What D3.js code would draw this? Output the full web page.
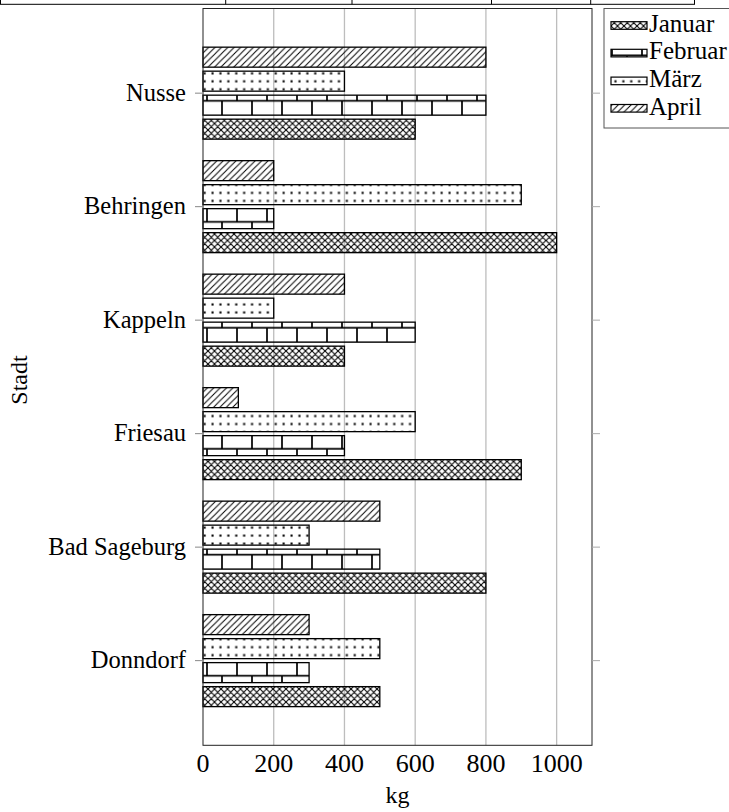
<!DOCTYPE html>
<html>
<head>
<meta charset="utf-8">
<script src="https://cdn.jsdelivr.net/npm/d3@7"></script>
<style>
  html, body { margin: 0; padding: 0; background: #fff; overflow: hidden; }
  text { font-family: "Liberation Serif", serif; fill: #000; }
</style>
</head>
<body>
<script>
// Daten
const cities = ["Nusse", "Behringen", "Kappeln", "Friesau", "Bad Sageburg", "Donndorf"];
const months = ["Januar", "Februar", "März", "April"];
const januar = [600, 1000, 400, 900, 800, 500];
const februar = [800, 200, 600, 400, 500, 300];
const maerz = [400, 900, 200, 600, 300, 500];
const april = [800, 200, 400, 100, 500, 300];
const xTicks = [0, 200, 400, 600, 800, 1000];

const seriesValues = [januar, februar, maerz, april];
const patternIds = ["crosshatch", "bricks", "dots", "nelines"];

const series = months.map(function (m, i) {
    return {name: m, values: seriesValues[i], pattern: patternIds[i]};
});

const W = 729, H = 812;
const plotLeft = 203, plotRight = 592, plotTop = 8.5, plotBottom = 745.3;

const svg = d3.select("body")
    .append("svg")
    .attr("width", W)
    .attr("height", H);

// Muster
const defs = svg.append("defs");

function addPattern(id, w, h, px, py) {
    return defs.append("pattern")
        .attr("id", id)
        .attr("patternUnits", "userSpaceOnUse")
        .attr("width", w)
        .attr("height", h)
        .attr("x", px)
        .attr("y", py);
}

addPattern("crosshatch", 6.5, 6.5, 0, 0)
    .append("path")
    .attr("d", "M-1,-1L7.5,7.5M5.5,-1L7.5,1M-1,5.5L1,7.5M-1,7.5L7.5,-1M-1,1L1,-1M5.5,7.5L7.5,5.5")
    .attr("stroke", "#000")
    .attr("stroke-width", 1.1)
    .attr("fill", "none");

addPattern("nelines", 6.4, 6.4, 0, 0)
    .append("path")
    .attr("d", "M-1,7.4L7.4,-1M-1,1L1,-1M5.4,7.4L7.4,5.4")
    .attr("stroke", "#000")
    .attr("stroke-width", 1)
    .attr("fill", "none");

addPattern("dots", 7.9, 7.97, 204.6 - 1.5, 73.3 - 1.5)
    .append("rect")
    .attr("x", 0.5)
    .attr("y", 0.5)
    .attr("width", 2.1)
    .attr("height", 2.1)
    .attr("fill", "#000");

const brickH = 15.13;
addPattern("bricks", 30, 2 * brickH, 206, 84.6)
    .append("path")
    .attr("d", "M0,1H30M0," + (1 + brickH) + "H30M1,1V" + (1 + brickH) +
        "M16," + (1 + brickH) + "V" + (2 * brickH) + "M16,0V1")
    .attr("stroke", "#000")
    .attr("stroke-width", 1.7)
    .attr("fill", "none");

// Skalen
const x = d3.scaleLinear()
    .domain([0, 1100])
    .range([plotLeft, plotRight]);

const y = d3.scalePoint()
    .domain(cities)
    .range([plotTop, plotBottom])
    .padding(0.746);

const inner = d3.scaleBand()
    .domain(months.slice().reverse())
    .range([-48, 48])
    .paddingInner(1 / 6)
    .paddingOuter(1 / 12);

// abgeschnittene Box oben
svg.append("rect")
    .attr("x", 0.5)
    .attr("y", -20)
    .attr("width", 694)
    .attr("height", 24.3)
    .attr("fill", "none")
    .attr("stroke", "#000")
    .attr("stroke-width", 1);

svg.selectAll("line.topdiv")
    .data([225.7, 352, 491.5, 590.7])
    .enter()
    .append("line")
    .attr("class", "topdiv")
    .attr("x1", function (d) { return d; })
    .attr("x2", function (d) { return d; })
    .attr("y1", -20)
    .attr("y2", 4.3)
    .attr("stroke", "#000")
    .attr("stroke-width", 1);

// Gitterlinien
svg.selectAll("line.grid")
    .data(xTicks.slice(1))
    .enter()
    .append("line")
    .attr("class", "grid")
    .attr("x1", function (d) { return x(d); })
    .attr("x2", function (d) { return x(d); })
    .attr("y1", plotTop)
    .attr("y2", plotBottom)
    .attr("stroke", "#bdbdbd")
    .attr("stroke-width", 1.3);

// Balken
const groups = svg.selectAll("g.series")
    .data(series)
    .enter()
    .append("g")
    .attr("class", "series");

groups.selectAll("rect")
    .data(function (s) {
        return s.values.map(function (v, i) {
            return {city: cities[i], value: v, name: s.name, pattern: s.pattern};
        });
    })
    .enter()
    .append("rect")
    .attr("x", x(0))
    .attr("y", function (d) { return y(d.city) + inner(d.name); })
    .attr("width", function (d) { return x(d.value) - x(0); })
    .attr("height", inner.bandwidth())
    .attr("fill", function (d) { return "url(#" + d.pattern + ")"; })
    .attr("stroke", "#000")
    .attr("stroke-width", 1.3);

// Rahmen
svg.append("rect")
    .attr("x", plotLeft)
    .attr("y", plotTop)
    .attr("width", plotRight - plotLeft)
    .attr("height", plotBottom - plotTop)
    .attr("fill", "none")
    .attr("stroke", "#222")
    .attr("stroke-width", 1);

// y-Ticks links und rechts
svg.selectAll("line.ytick")
    .data(cities)
    .enter()
    .append("line")
    .attr("class", "ytick")
    .attr("x1", plotLeft - 8)
    .attr("x2", plotLeft)
    .attr("y1", function (d) { return y(d); })
    .attr("y2", function (d) { return y(d); })
    .attr("stroke", "#888")
    .attr("stroke-width", 1);

svg.selectAll("line.ytick2")
    .data(cities)
    .enter()
    .append("line")
    .attr("class", "ytick2")
    .attr("x1", plotRight)
    .attr("x2", plotRight + 8)
    .attr("y1", function (d) { return y(d); })
    .attr("y2", function (d) { return y(d); })
    .attr("stroke", "#aaa")
    .attr("stroke-width", 1);

svg.selectAll("text.ylab")
    .data(cities)
    .enter()
    .append("text")
    .attr("class", "ylab")
    .attr("x", 186)
    .attr("y", function (d) { return y(d) + 7.5; })
    .attr("text-anchor", "end")
    .attr("font-size", "24.5px")
    .text(function (d) { return d; });

// x-Beschriftung
svg.selectAll("text.xlab")
    .data(xTicks)
    .enter()
    .append("text")
    .attr("class", "xlab")
    .attr("x", function (d) { return x(d); })
    .attr("y", 772)
    .attr("text-anchor", "middle")
    .attr("font-size", "26px")
    .text(function (d) { return d; });

svg.append("text")
    .attr("x", (plotLeft + plotRight) / 2)
    .attr("y", 803)
    .attr("text-anchor", "middle")
    .attr("font-size", "24px")
    .text("kg");

svg.append("text")
    .attr("transform", "translate(27,380) rotate(-90)")
    .attr("text-anchor", "middle")
    .attr("font-size", "24px")
    .text("Stadt");

// Legende
svg.append("rect")
    .attr("x", 604)
    .attr("y", plotTop)
    .attr("width", 140)
    .attr("height", 128 - plotTop)
    .attr("fill", "#fff")
    .attr("stroke", "#555")
    .attr("stroke-width", 1);

const legendBase = [31.7, 59.3, 87.1, 114.5];

const items = svg.selectAll("g.legend")
    .data(series)
    .enter()
    .append("g")
    .attr("class", "legend");

items.append("rect")
    .attr("x", 611)
    .attr("y", function (d, i) { return legendBase[i] - 10; })
    .attr("width", 36)
    .attr("height", 7.6)
    .attr("fill", function (d) { return "url(#" + d.pattern + ")"; })
    .attr("stroke", "#000")
    .attr("stroke-width", 1.2);

items.append("text")
    .attr("x", 649)
    .attr("y", function (d, i) { return legendBase[i]; })
    .attr("font-size", "25px")
    .text(function (d) { return d.name; });
</script>
</body>
</html>
